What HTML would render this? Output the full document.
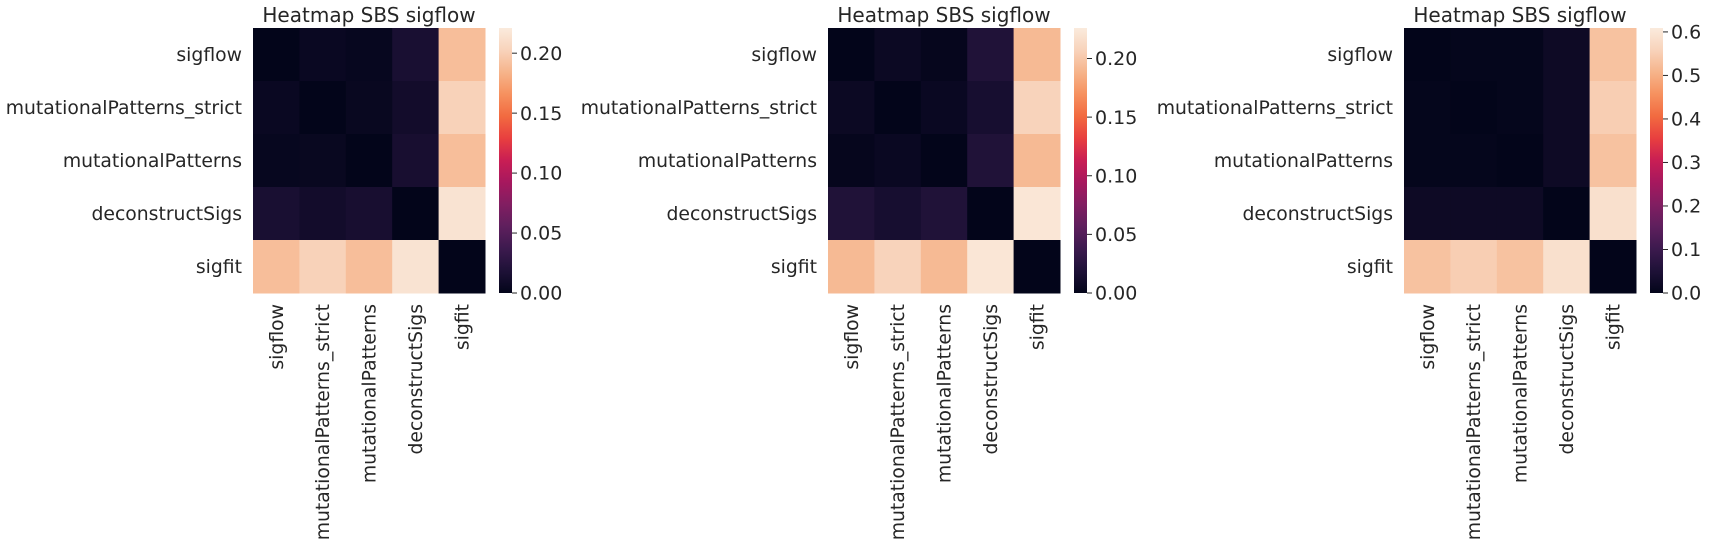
<!DOCTYPE html>
<html><head><meta charset="utf-8"><style>
html,body{margin:0;padding:0;background:#fff;}
svg{display:block;font-family:"DejaVu Sans","Liberation Sans",sans-serif;}
</style></head><body>
<svg id="chart" width="1709" height="546" xmlns="http://www.w3.org/2000/svg">
<defs>
<linearGradient id="rocket" x1="0" y1="1" x2="0" y2="0">
<stop offset="0" stop-color="#03051A"/><stop offset="0.0833" stop-color="#1E1137"/><stop offset="0.1667" stop-color="#3C1A4E"/><stop offset="0.25" stop-color="#5E1F5D"/><stop offset="0.3333" stop-color="#811E61"/><stop offset="0.4167" stop-color="#A6185E"/><stop offset="0.5" stop-color="#C91E54"/><stop offset="0.5833" stop-color="#E83F3F"/><stop offset="0.6667" stop-color="#F26A40"/><stop offset="0.75" stop-color="#F6915F"/><stop offset="0.8333" stop-color="#F6B48B"/><stop offset="0.9167" stop-color="#F8D3BB"/><stop offset="1" stop-color="#FAEBDD"/>
</linearGradient>
</defs>
</svg>
<script>
const labels = ["sigflow","mutationalPatterns_strict","mutationalPatterns","deconstructSigs","sigfit"];
const values1 = [
 [0,0.005,0.003,0.015,0.19],
 [0.005,0,0.004,0.011,0.202],
 [0.003,0.004,0,0.014,0.19],
 [0.015,0.011,0.014,0,0.215],
 [0.19,0.202,0.19,0.215,0]];
const values2 = [
 [0,0.006,0.002,0.02,0.192],
 [0.006,0,0.005,0.014,0.207],
 [0.002,0.005,0,0.02,0.192],
 [0.02,0.014,0.02,0,0.222],
 [0.192,0.207,0.192,0.222,0]];
const values3 = [
 [0,0.004,0.004,0.02,0.53],
 [0.004,0,0.004,0.02,0.55],
 [0.004,0.004,0,0.02,0.53],
 [0.02,0.02,0.02,0,0.585],
 [0.53,0.55,0.53,0.585,0]];
const vmax = [0.221, 0.226, 0.609];
const ticks1 = [0,0.05,0.10,0.15,0.20];
const ticks2 = [0,0.05,0.10,0.15,0.20];
const ticks3 = [0,0.1,0.2,0.3,0.4,0.5,0.6];
const tickFmt = [2,2,1];
const title = "Heatmap SBS sigflow";

const stops=["#03051A","#1E1137","#3C1A4E","#5E1F5D","#811E61","#A6185E","#C91E54","#E83F3F","#F26A40","#F6915F","#F6B48B","#F8D3BB","#FAEBDD"].map(h=>[1,3,5].map(i=>parseInt(h.substr(i,2),16)));
function rocket(t){t=Math.max(0,Math.min(1,t));const p=t*(stops.length-1);const i=Math.min(Math.floor(p),stops.length-2);const f=p-i;
 const c=stops[i].map((v,k)=>Math.round(v+(stops[i+1][k]-v)*f));return `rgb(${c[0]},${c[1]},${c[2]})`;}
const NS="http://www.w3.org/2000/svg";
const svgEl=document.getElementById('chart');
function mk(tag,attrs,parent){const e=document.createElementNS(NS,tag);for(const k in attrs)e.setAttribute(k,attrs[k]);(parent||svgEl).appendChild(e);return e;}
const panels=[{x0:253,vals:values1,ticks:ticks1},{x0:828,vals:values2,ticks:ticks2},{x0:1404,vals:values3,ticks:ticks3}];
const topY=28,W=232,H=265,n=labels.length,cw=W/n,ch=H/n,txt="#262626",fs=18.8;
panels.forEach((p,pi)=>{
 const g=mk('g',{});
 
 
 const t=mk('text',{x:p.x0+W/2,y:22,'text-anchor':'middle','font-size':20,fill:txt},g);t.textContent=title;
 
 
 const xs=i=>p.x0+i*cw, ys=j=>topY+j*ch, col=v=>rocket(v/vmax[pi]);
 p.vals.forEach((row,j)=>row.forEach((v,i)=>{
  const r=mk('rect',{x:xs(i),y:ys(j),width:cw+0.5,height:ch+0.5,fill:col(v)},g);
  
  
 }));
 labels.forEach((l,j)=>{
  const e=mk('text',{x:p.x0-11,y:ys(j)+ch/2,dy:'0.35em','text-anchor':'end','font-size':fs,fill:txt},g);e.textContent=l;
  
  
  const cx=xs(j)+cw/2;
  const x=mk('text',{transform:`translate(${cx},304) rotate(-90)`,dy:'0.35em','text-anchor':'end','font-size':fs,fill:txt},g);x.textContent=l;
  
  
 });
 const cbx=p.x0+W+14, cbw=13;
 const cb=mk('rect',{x:cbx,y:topY,width:cbw,height:H,fill:'url(#rocket)'},g);
 
 
 p.ticks.forEach(tv=>{
  const y=topY+H-tv/vmax[pi]*H;
  mk('line',{x1:cbx+cbw,x2:cbx+cbw+5,y1:y,y2:y,stroke:txt,'stroke-width':1},g);
  const l=mk('text',{x:cbx+cbw+8,y:y,dy:'0.35em','font-size':19,fill:txt},g);l.textContent=tv.toFixed(tickFmt[pi]);
  
  
 });
});
</script>
</body></html>
